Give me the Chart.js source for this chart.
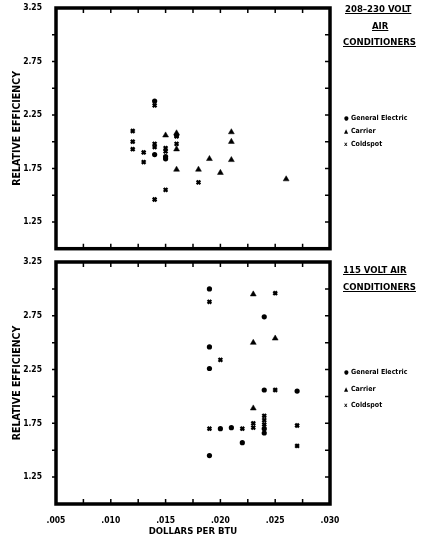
<!DOCTYPE html>
<html>
<head>
<meta charset="utf-8">
<script src="https://cdn.jsdelivr.net/npm/chart.js@4"></script>
<style>
  body{margin:0;background:#fff;width:427px;height:538px;position:relative;overflow:hidden;
    font-family:"DejaVu Sans Condensed","DejaVu Sans",sans-serif;font-weight:bold;color:#000}
  canvas{position:absolute;left:0}
  #topChart{top:0}
  #botChart{top:255px}
  .ttl{position:absolute;font-size:9.5px;text-decoration:underline;white-space:nowrap;line-height:12px}
  .leg{position:absolute;left:344px;font-size:7px;white-space:nowrap;line-height:10px}
  .leg i{font-style:normal;display:inline-block;width:7px;font-size:6px}
</style>
</head>
<body>
<canvas id="topChart" width="427" height="255"></canvas>
<canvas id="botChart" width="427" height="283"></canvas>

<div class="ttl" style="left:345px;top:3px">208–230 VOLT</div>
<div class="ttl" style="left:372px;top:20px">AIR</div>
<div class="ttl" style="left:343px;top:36px">CONDITIONERS</div>
<div class="leg" style="top:113px"><i>●</i>General Electric</div>
<div class="leg" style="top:126px"><i>▲</i>Carrier</div>
<div class="leg" style="top:139px"><i>x</i>Coldspot</div>

<div class="ttl" style="left:343px;top:264px">115 VOLT AIR</div>
<div class="ttl" style="left:343px;top:281px">CONDITIONERS</div>
<div class="leg" style="top:367px"><i>●</i>General Electric</div>
<div class="leg" style="top:384px"><i>▲</i>Carrier</div>
<div class="leg" style="top:400px"><i>x</i>Coldspot</div>

<script>
// [dollars per BTU, relative efficiency]
const ge230 = [[.014,2.38],[.014,1.88],[.015,1.86],[.015,1.84],[.016,2.06]];
const carrier230 = [[.015,2.06],[.016,2.08],[.016,1.93],[.016,1.74],[.018,1.74],[.019,1.84],
  [.020,1.71],[.021,2.09],[.021,2.00],[.021,1.83],[.026,1.65]];
const coldspot230 = [[.012,2.10],[.012,2.00],[.012,1.93],[.013,1.90],[.013,1.81],[.014,2.34],
  [.014,1.98],[.014,1.95],[.014,1.46],[.015,1.94],[.015,1.91],[.015,1.55],[.016,2.05],
  [.016,1.98],[.018,1.62]];

const ge115 = [[.019,3.00],[.019,2.46],[.019,2.26],[.019,1.45],[.020,1.70],[.021,1.71],
  [.022,1.57],[.024,2.74],[.024,2.06],[.024,1.70],[.024,1.66],[.027,2.05]];
const carrier115 = [[.023,2.95],[.023,2.50],[.023,1.89],[.025,2.54]];
const coldspot115 = [[.019,2.88],[.019,1.70],[.020,2.34],[.022,1.70],[.023,1.75],[.023,1.71],
  [.024,1.82],[.024,1.78],[.024,1.74],[.025,2.96],[.025,2.06],[.027,1.73],[.027,1.54]];

const xTicks = [.005,.0075,.010,.0125,.015,.0175,.020,.0225,.025,.0275,.030];
const xTickLabels = ['.005','','.010','','.015','','.020','','.025','','.030'];
const yTicks = [1.00,1.25,1.50,1.75,2.00,2.25,2.50,2.75,3.00,3.25];
const yTickLabels = ['','1.25','','1.75','','2.25','','2.75','','3.25'];

const FONT = '"DejaVu Sans Condensed","DejaVu Sans",sans-serif';

const frame = {
  id: 'frame',
  afterDatasetsDraw(chart){
    const {ctx, chartArea:a, scales:{x, y}} = chart;
    ctx.save();
    ctx.strokeStyle = '#000';
    ctx.lineWidth = 1.5;
    ctx.beginPath();
    xTicks.slice(1, -1).forEach(v => {
      const px = x.getPixelForValue(v);
      ctx.moveTo(px, a.top); ctx.lineTo(px, a.top + 5);
      ctx.moveTo(px, a.bottom); ctx.lineTo(px, a.bottom - 5);
    });
    yTicks.slice(1, -1).forEach(v => {
      const py = y.getPixelForValue(v);
      ctx.moveTo(a.left - 4, py); ctx.lineTo(a.left, py);
      ctx.moveTo(a.right, py); ctx.lineTo(a.right - 5, py);
    });
    ctx.stroke();
    ctx.lineWidth = 3.5;
    ctx.strokeRect(a.left, a.top, a.right - a.left, a.bottom - a.top);
    ctx.restore();
  }
};

function sets(ge, carrier, coldspot){
  const pts = arr => arr.map(([x, y]) => ({x, y}));
  return [
    {label:'General Electric', data:pts(ge), pointStyle:'circle', pointRadius:2.6,
      backgroundColor:'#000', borderWidth:0},
    {label:'Carrier', data:pts(carrier), pointStyle:'triangle', pointRadius:3.4,
      backgroundColor:'#000', borderColor:'#000', borderWidth:0.5},
    {label:'Coldspot', data:pts(coldspot), pointStyle:'crossRot', pointRadius:2.6,
      borderColor:'#000', borderWidth:2.3}
  ];
}

function noPad(s){ s.paddingTop = 0; s.paddingBottom = 0; s.paddingLeft = 0; s.paddingRight = 0; }

function makeChart(id, datasets, showX){
  return new Chart(document.getElementById(id), {
    type: 'scatter',
    data: { datasets },
    options: {
      responsive: false,
      animation: false,
      layout: { padding: { left: 0, right: 97, top: showX ? 7 : 8, bottom: showX ? 0 : 5 } },
      plugins: { legend: { display: false }, tooltip: { enabled: false } },
      scales: {
        x: {
          type: 'linear', min: .005, max: .030,
          afterBuildTicks: s => { s.ticks = xTicks.map(value => ({value})); },
          afterFit: s => { s.height = showX ? 34 : 0; noPad(s); },
          grid: { display: false }, border: { display: false },
          ticks: { display: showX, padding: 4, maxRotation: 0, autoSkip: false,
            color: '#000', font: { family: FONT, size: 8.5, weight: 'bold' },
            callback: (v, i) => xTickLabels[i] },
          title: { display: showX, text: 'DOLLARS PER BTU', color: '#000',
            padding: { top: 0, bottom: 1 }, font: { family: FONT, size: 9.5, weight: 'bold' } }
        },
        y: {
          min: 1, max: 3.25,
          afterBuildTicks: s => { s.ticks = yTicks.map(value => ({value})); },
          afterFit: s => { s.width = 56; noPad(s); },
          grid: { display: false }, border: { display: false },
          ticks: { padding: 6, autoSkip: false, color: '#000',
            font: { family: FONT, size: 8.5, weight: 'bold' },
            callback: (v, i) => yTickLabels[i] },
          title: { display: true, text: 'RELATIVE EFFICIENCY', color: '#000',
            padding: { top: 11, bottom: 0 }, font: { family: FONT, size: 10.5, weight: 'bold' } }
        }
      }
    },
    plugins: [frame]
  });
}

makeChart('topChart', sets(ge230, carrier230, coldspot230), false);
makeChart('botChart', sets(ge115, carrier115, coldspot115), true);
</script>
</body>
</html>
